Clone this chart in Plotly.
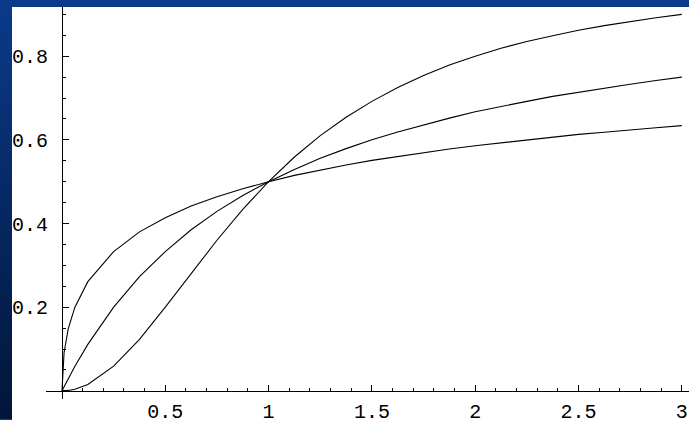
import plotly.graph_objects as go

# Sample abscissae shared by the three response curves
x_vals = [0, 0.01, 0.03, 0.0625, 0.125, 0.25, 0.375, 0.5, 0.625, 0.75, 0.875, 1,
          1.125, 1.25, 1.375, 1.5, 1.625, 1.75, 1.875, 2, 2.125, 2.25, 2.375,
          2.5, 2.625, 2.75, 2.875, 3]

# Shallow curve (steep start, flat tail)
y_low = [0, 0.091, 0.148, 0.2, 0.261, 0.333, 0.38, 0.414, 0.442, 0.464, 0.483, 0.5,
         0.515, 0.528, 0.54, 0.551, 0.56, 0.57, 0.578, 0.586, 0.593, 0.6, 0.607,
         0.613, 0.618, 0.624, 0.629, 0.634]

# Middle curve
y_mid = [0, 0.01, 0.029, 0.059, 0.111, 0.2, 0.273, 0.333, 0.385, 0.429, 0.467, 0.5,
         0.529, 0.556, 0.579, 0.6, 0.619, 0.636, 0.652, 0.667, 0.68, 0.692, 0.704,
         0.714, 0.724, 0.733, 0.742, 0.75]

# Sigmoidal curve
y_high = [0, 0.0001, 0.001, 0.004, 0.015, 0.059, 0.123, 0.2, 0.281, 0.36, 0.434, 0.5,
          0.559, 0.61, 0.654, 0.692, 0.725, 0.754, 0.779, 0.8, 0.819, 0.835, 0.849,
          0.862, 0.873, 0.883, 0.892, 0.9]

x_ticks = [0.5, 1, 1.5, 2, 2.5, 3]
x_tick_text = ["0.5", "1", "1.5", "2", "2.5", "3"]
y_ticks = [0.2, 0.4, 0.6, 0.8]
y_tick_text = ["0.2", "0.4", "0.6", "0.8"]

W, H = 689, 424

fig = go.Figure()
for ys in (y_low, y_mid, y_high):
    fig.add_trace(go.Scatter(x=x_vals, y=ys, mode="lines",
                             line=dict(color="black", width=1.1),
                             showlegend=False, hoverinfo="skip"))

# Blue frame strips: top band and a vertical gradient on the left
shapes = [dict(type="rect", xref="paper", yref="paper", x0=0, x1=1,
               y0=1 - 7 / H, y1=1, fillcolor="#0b3a8a", line_width=0, layer="below")]
top_c = (11, 58, 138)
bot_c = (1, 22, 58)
n = 40
for i in range(n):
    t = i / (n - 1)
    c = tuple(int(round(top_c[k] + (bot_c[k] - top_c[k]) * t)) for k in range(3))
    shapes.append(dict(type="rect", xref="paper", yref="paper",
                       x0=0, x1=12 / W,
                       y0=1 - (i + 1) / n - 0.002, y1=1 - i / n,
                       fillcolor="rgb(%d,%d,%d)" % c, line_width=0, layer="below"))

tick_font = dict(family="Liberation Mono, Courier New, monospace", size=20, color="black")

# Pixel geometry of the axes
px_x0, px_per_x = 62.0, 206.6
px_y0, px_per_y = 395.5, 423.3
x_left_px, x_right_px = 46, W
y_bot_px, y_top_px = 404, 7

x_range = [(x_left_px - px_x0) / px_per_x, (x_right_px - px_x0) / px_per_x]
y_range = [-(y_bot_px - px_y0) / px_per_y, (px_y0 - y_top_px) / px_per_y]

fig.update_layout(
    width=W, height=H,
    margin=dict(l=0, r=0, t=0, b=0),
    paper_bgcolor="white", plot_bgcolor="white",
    shapes=shapes,
    xaxis=dict(
        domain=[x_left_px / W, 1], range=x_range,
        anchor="free", position=(H - px_y0) / H,
        showline=True, linecolor="black", linewidth=1,
        showgrid=False, zeroline=False,
        tickmode="array", tickvals=x_ticks, ticktext=x_tick_text,
        ticks="inside", ticklen=6, tickwidth=1, tickcolor="black",
        minor=dict(tickmode="linear", tick0=0, dtick=0.1, ticks="inside",
                   ticklen=3, tickwidth=1, tickcolor="black", showgrid=False),
        tickfont=tick_font, ticklabelstandoff=2,
    ),
    yaxis=dict(
        domain=[(H - y_bot_px) / H, (H - y_top_px) / H], range=y_range,
        anchor="free", position=px_x0 / W,
        showline=True, linecolor="black", linewidth=1,
        showgrid=False, zeroline=False,
        tickmode="array", tickvals=y_ticks, ticktext=y_tick_text,
        ticks="inside", ticklen=6, tickwidth=1, tickcolor="black",
        minor=dict(tickmode="linear", tick0=0, dtick=0.05, ticks="inside",
                   ticklen=3, tickwidth=1, tickcolor="black", showgrid=False),
        tickfont=tick_font, ticklabelstandoff=10,
    ),
)

fig.write_html("out.html")
